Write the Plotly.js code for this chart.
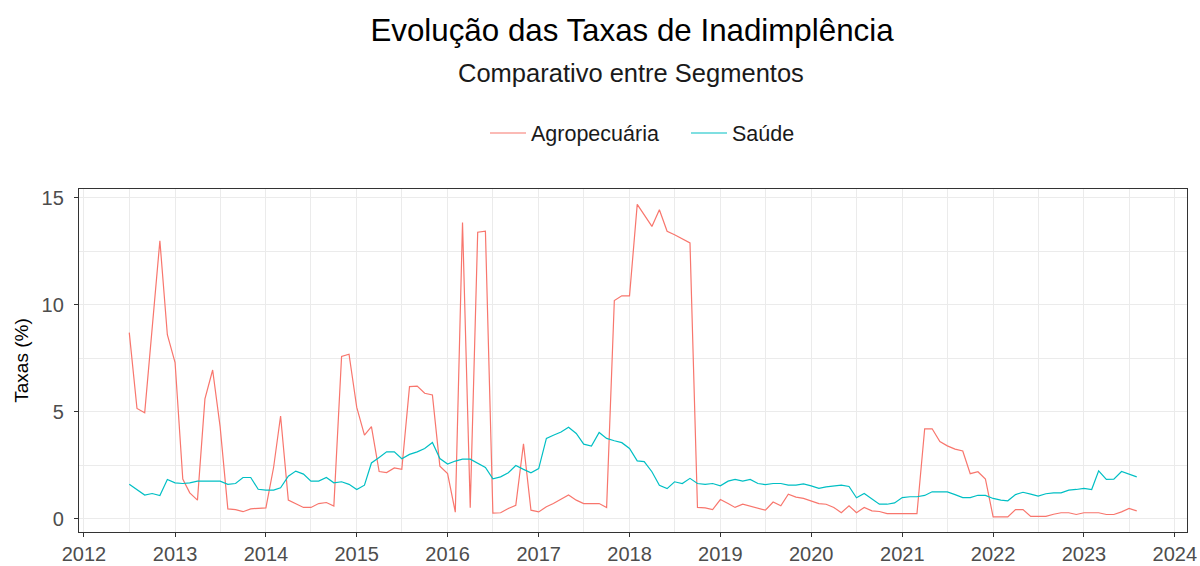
<!DOCTYPE html>
<html>
<head>
<meta charset="utf-8">
<script src="https://cdn.plot.ly/plotly-3.0.1.min.js"></script>
<style>html,body{margin:0;padding:0;background:#fff;}#chart{width:1200px;height:566px;}</style>
</head>
<body>
<div id="chart"></div>
<script>
const months = [
"2012-07","2012-08","2012-09","2012-10","2012-11","2012-12",
"2013-01","2013-02","2013-03","2013-04","2013-05","2013-06","2013-07","2013-08","2013-09","2013-10","2013-11","2013-12",
"2014-01","2014-02","2014-03","2014-04","2014-05","2014-06","2014-07","2014-08","2014-09","2014-10","2014-11","2014-12",
"2015-01","2015-02","2015-03","2015-04","2015-05","2015-06","2015-07","2015-08","2015-09","2015-10","2015-11","2015-12",
"2016-01","2016-02","2016-03","2016-04","2016-05","2016-06","2016-07","2016-08","2016-09","2016-10","2016-11","2016-12",
"2017-01","2017-02","2017-03","2017-04","2017-05","2017-06","2017-07","2017-08","2017-09","2017-10","2017-11","2017-12",
"2018-01","2018-02","2018-03","2018-04","2018-05","2018-06","2018-07","2018-08","2018-09","2018-10","2018-11","2018-12",
"2019-01","2019-02","2019-03","2019-04","2019-05","2019-06","2019-07","2019-08","2019-09","2019-10","2019-11","2019-12",
"2020-01","2020-02","2020-03","2020-04","2020-05","2020-06","2020-07","2020-08","2020-09","2020-10","2020-11","2020-12",
"2021-01","2021-02","2021-03","2021-04","2021-05","2021-06","2021-07","2021-08","2021-09","2021-10","2021-11","2021-12",
"2022-01","2022-02","2022-03","2022-04","2022-05","2022-06","2022-07","2022-08","2022-09","2022-10","2022-11","2022-12",
"2023-01","2023-02","2023-03","2023-04","2023-05","2023-06","2023-07","2023-08"
];

const agropecuaria = [
8.7, 5.15, 4.95, 8.9, 13.0, 8.6, 7.3, 1.85, 1.2, 0.86, 5.6, 6.95,
4.3, 0.45, 0.42, 0.32, 0.45, 0.48, 0.5, 2.4, 4.8, 0.86, 0.7, 0.52,
0.52, 0.7, 0.75, 0.58, 7.58, 7.69, 5.2, 3.9, 4.3, 2.2, 2.15, 2.37,
2.3, 6.17, 6.2, 5.86, 5.78, 2.45, 2.1, 0.3, 13.85, 0.5, 13.4, 13.45,
0.25, 0.27, 0.47, 0.62, 3.5, 0.39, 0.31, 0.55, 0.7, 0.9, 1.1, 0.86,
0.7, 0.7, 0.7, 0.52, 10.2, 10.42, 10.42, 14.7, 14.2, 13.67, 14.45, 13.44,
13.28, 13.1, 12.9, 0.52, 0.5, 0.42, 0.89, 0.7, 0.52, 0.67, 0.58, 0.48,
0.39, 0.77, 0.6, 1.14, 1.0, 0.94, 0.81, 0.7, 0.67, 0.52, 0.27, 0.6,
0.27, 0.52, 0.36, 0.33, 0.23, 0.23, 0.23, 0.23, 0.23, 4.2, 4.2, 3.6,
3.4, 3.25, 3.16, 2.1, 2.19, 1.85, 0.08, 0.08, 0.08, 0.42, 0.42, 0.1,
0.1, 0.1, 0.2, 0.27, 0.27, 0.19, 0.27, 0.27, 0.27, 0.19, 0.19, 0.31,
0.47, 0.36
];

const saude = [
1.6, 1.33, 1.1, 1.17, 1.08, 1.83, 1.67, 1.64, 1.67, 1.75, 1.75, 1.75,
1.75, 1.6, 1.64, 1.92, 1.92, 1.37, 1.33, 1.33, 1.44, 1.98, 2.22, 2.08,
1.75, 1.75, 1.92, 1.67, 1.72, 1.6, 1.36, 1.56, 2.6, 2.86, 3.12, 3.12,
2.8, 3.0, 3.12, 3.28, 3.56, 2.81, 2.55, 2.69, 2.78, 2.78, 2.58, 2.39,
1.86, 1.95, 2.14, 2.48, 2.3, 2.14, 2.34, 3.75, 3.9, 4.05, 4.27, 3.98,
3.48, 3.39, 4.03, 3.75, 3.64, 3.55, 3.28, 2.7, 2.66, 2.19, 1.56, 1.4,
1.72, 1.64, 1.88, 1.64, 1.6, 1.64, 1.53, 1.75, 1.83, 1.75, 1.83, 1.64,
1.59, 1.64, 1.64, 1.56, 1.56, 1.62, 1.53, 1.41, 1.48, 1.52, 1.56, 1.5,
0.97, 1.17, 0.91, 0.67, 0.67, 0.73, 0.98, 1.02, 1.02, 1.08, 1.25, 1.25,
1.25, 1.12, 0.98, 0.98, 1.09, 1.08, 0.94, 0.86, 0.83, 1.12, 1.23, 1.14,
1.05, 1.16, 1.2, 1.2, 1.33, 1.36, 1.41, 1.36, 2.23, 1.83, 1.84, 2.2,
2.08, 1.95
];

const seriesNames = ["Agropecuária", "Saúde"];
const seriesColors = ["#F8766D", "#00BFC4"];
const yTicks = [0, 5, 10, 15];

const FONT = "Liberation Sans, Arial, sans-serif";

const traces = [agropecuaria, saude].map((vals, k) => ({
  type: "scatter",
  mode: "lines",
  x: months,
  y: vals,
  name: seriesNames[k],
  line: {color: seriesColors[k], width: 1.2},
  hoverinfo: "x+y+name"
}));

const layout = {
  width: 1200,
  height: 566,
  paper_bgcolor: "#ffffff",
  plot_bgcolor: "#ffffff",
  margin: {l: 79, r: 13, t: 189, b: 34, pad: 0},
  font: {family: FONT, color: "#4D4D4D"},
  title: {
    text: "Evolução das Taxas de Inadimplência",
    font: {family: FONT, size: 31.3, color: "#000000"},
    x: 632/1200, xanchor: "center", xref: "container",
    y: 1 - 30/566, yanchor: "middle", yref: "container"
  },
  annotations: [{
    text: "Comparativo entre Segmentos",
    xref: "paper", yref: "paper",
    x: (631 - 79)/1108, xanchor: "center",
    y: 1 + (189 - 73)/343, yanchor: "middle",
    showarrow: false,
    font: {family: FONT, size: 25.5, color: "#1a1a1a"}
  }],
  showlegend: true,
  legend: {
    orientation: "h",
    x: (686 - 79)/1108, xanchor: "center",
    y: 1 + (189 - 133)/343, yanchor: "middle",
    font: {family: FONT, size: 21.5, color: "#1a1a1a"},
    bgcolor: "rgba(0,0,0,0)",
    itemwidth: 36,
    entrywidth: 150,
    entrywidthmode: "pixels"
  },
  xaxis: {
    type: "date",
    range: ["2011-12-12", "2024-02-19"],
    tick0: "2012-01-01",
    dtick: "M12",
    tickformat: "%Y",
    ticks: "outside",
    ticklen: 4,
    tickwidth: 1.1,
    tickcolor: "#333333",
    tickfont: {family: FONT, size: 20, color: "#4D4D4D"},
    showline: true,
    linecolor: "#333333",
    linewidth: 1.3,
    mirror: true,
    showgrid: true,
    gridcolor: "#EBEBEB",
    gridwidth: 1.1,
    minor: {dtick: "M6", tick0: "2012-07-01", showgrid: true, gridcolor: "#EBEBEB", gridwidth: 0.6},
    zeroline: false
  },
  yaxis: {
    range: [-0.63, 15.42],
    tickvals: yTicks,
    ticktext: yTicks.map(String),
    ticks: "outside",
    ticklen: 4,
    tickwidth: 1.1,
    tickcolor: "#333333",
    tickfont: {family: FONT, size: 20, color: "#4D4D4D"},
    ticklabelstandoff: 6,
    showline: true,
    linecolor: "#333333",
    linewidth: 1.3,
    mirror: true,
    showgrid: true,
    gridcolor: "#EBEBEB",
    gridwidth: 1.1,
    minor: {tickvals: [2.5, 7.5, 12.5], showgrid: true, gridcolor: "#EBEBEB", gridwidth: 0.6},
    zeroline: false,
    title: {text: "Taxas (%)", font: {family: FONT, size: 19, color: "#000000"}, standoff: 7}
  }
};

Plotly.newPlot("chart", traces, layout, {displayModeBar: false, responsive: false});
</script>
</body>
</html>
